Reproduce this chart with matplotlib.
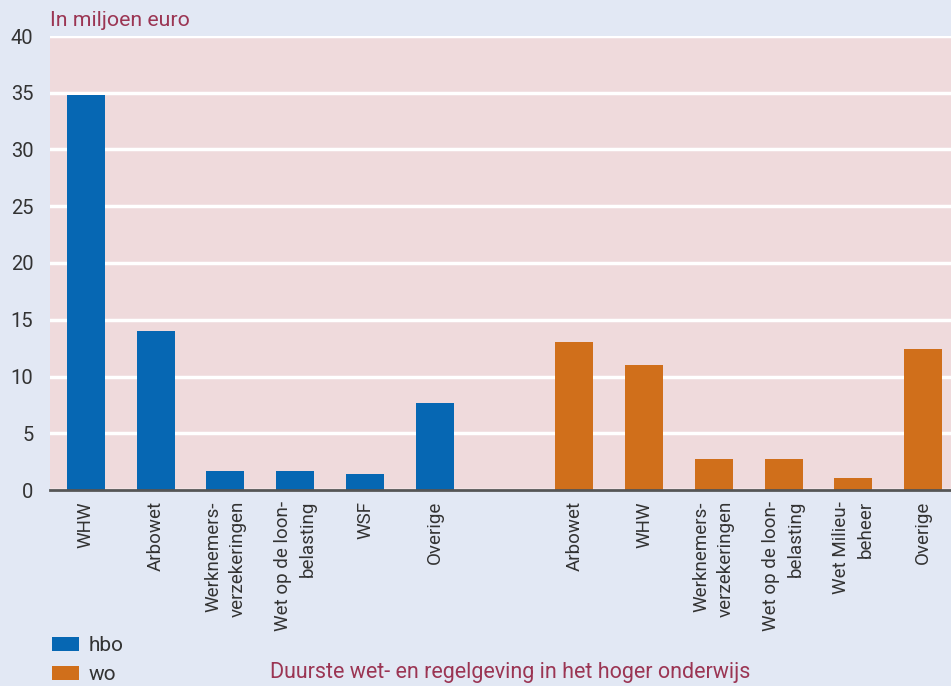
import matplotlib.pyplot as plt
import numpy as np

plt.rcParams['font.family'] = ['Roboto', 'DejaVu Sans']

# Kosten per wet, in miljoen euro
hbo_labels = ["WHW", "Arbowet", "Werknemers-\nverzekeringen", "Wet op de loon-\nbelasting", "WSF", "Overige"]
hbo_values = [34.8, 14.0, 1.7, 1.7, 1.4, 7.7]
wo_labels = ["Arbowet", "WHW", "Werknemers-\nverzekeringen", "Wet op de loon-\nbelasting", "Wet Milieu-\nbeheer", "Overige"]
wo_values = [13.0, 11.0, 2.7, 2.7, 1.1, 12.4]

BG = "#e2e8f4"
PLOT_BG = "#efdadc"
BLUE = "#0667b3"
ORANGE = "#d06f1b"
MAROON = "#9b3553"
TEXT = "#333333"

fig = plt.figure(figsize=(9.51, 6.86), dpi=100, facecolor=BG)
ax = fig.add_axes([50 / 951, 196 / 686, 901 / 951, 454 / 686])
ax.set_facecolor(PLOT_BG)

x_hbo = np.arange(len(hbo_values))
x_wo = np.arange(len(wo_values)) + len(hbo_values) + 1
ax.bar(x_hbo, hbo_values, width=0.545, color=BLUE, zorder=3, label="hbo")
ax.bar(x_wo, wo_values, width=0.545, color=ORANGE, zorder=3, label="wo")

ax.set_xlim(-0.515, 12.4)
ax.set_ylim(0, 40)
ax.set_yticks(range(0, 41, 5))
ax.yaxis.grid(True, color="white", linewidth=2.5, zorder=1)
ax.tick_params(axis="y", length=0, pad=12, labelsize=14.5, labelcolor=TEXT)
for lbl in ax.get_yticklabels():
    lbl.set_horizontalalignment("right")

ax.set_xticks(np.concatenate([x_hbo, x_wo]))
ax.set_xticklabels(hbo_labels + wo_labels, rotation=90, fontsize=13.5,
                   color=TEXT, va="top", ha="center", multialignment="right",
                   linespacing=1.45)
ax.tick_params(axis="x", length=0, pad=8)

for side in ["top", "right", "left"]:
    ax.spines[side].set_visible(False)
ax.spines["bottom"].set_color("#555555")
ax.spines["bottom"].set_linewidth(2)
ax.spines["bottom"].set_zorder(4)

fig.text(50 / 951, 1 - 20 / 686, "In miljoen euro", color=MAROON, fontsize=15.3,
         va="center", ha="left")

leg = fig.legend(loc="upper left", bbox_to_anchor=(52 / 951, 1 - 636 / 686),
                 frameon=False, fontsize=15, handlelength=1.3, handleheight=0.68,
                 handletextpad=0.45, labelspacing=0.5, labelcolor=TEXT,
                 borderpad=0, borderaxespad=0)

fig.text(510 / 951, 3 / 686, "Duurste wet- en regelgeving in het hoger onderwijs",
         color=MAROON, fontsize=15.5, ha="center", va="bottom")

fig.savefig("out.png", dpi=100, facecolor=BG)
